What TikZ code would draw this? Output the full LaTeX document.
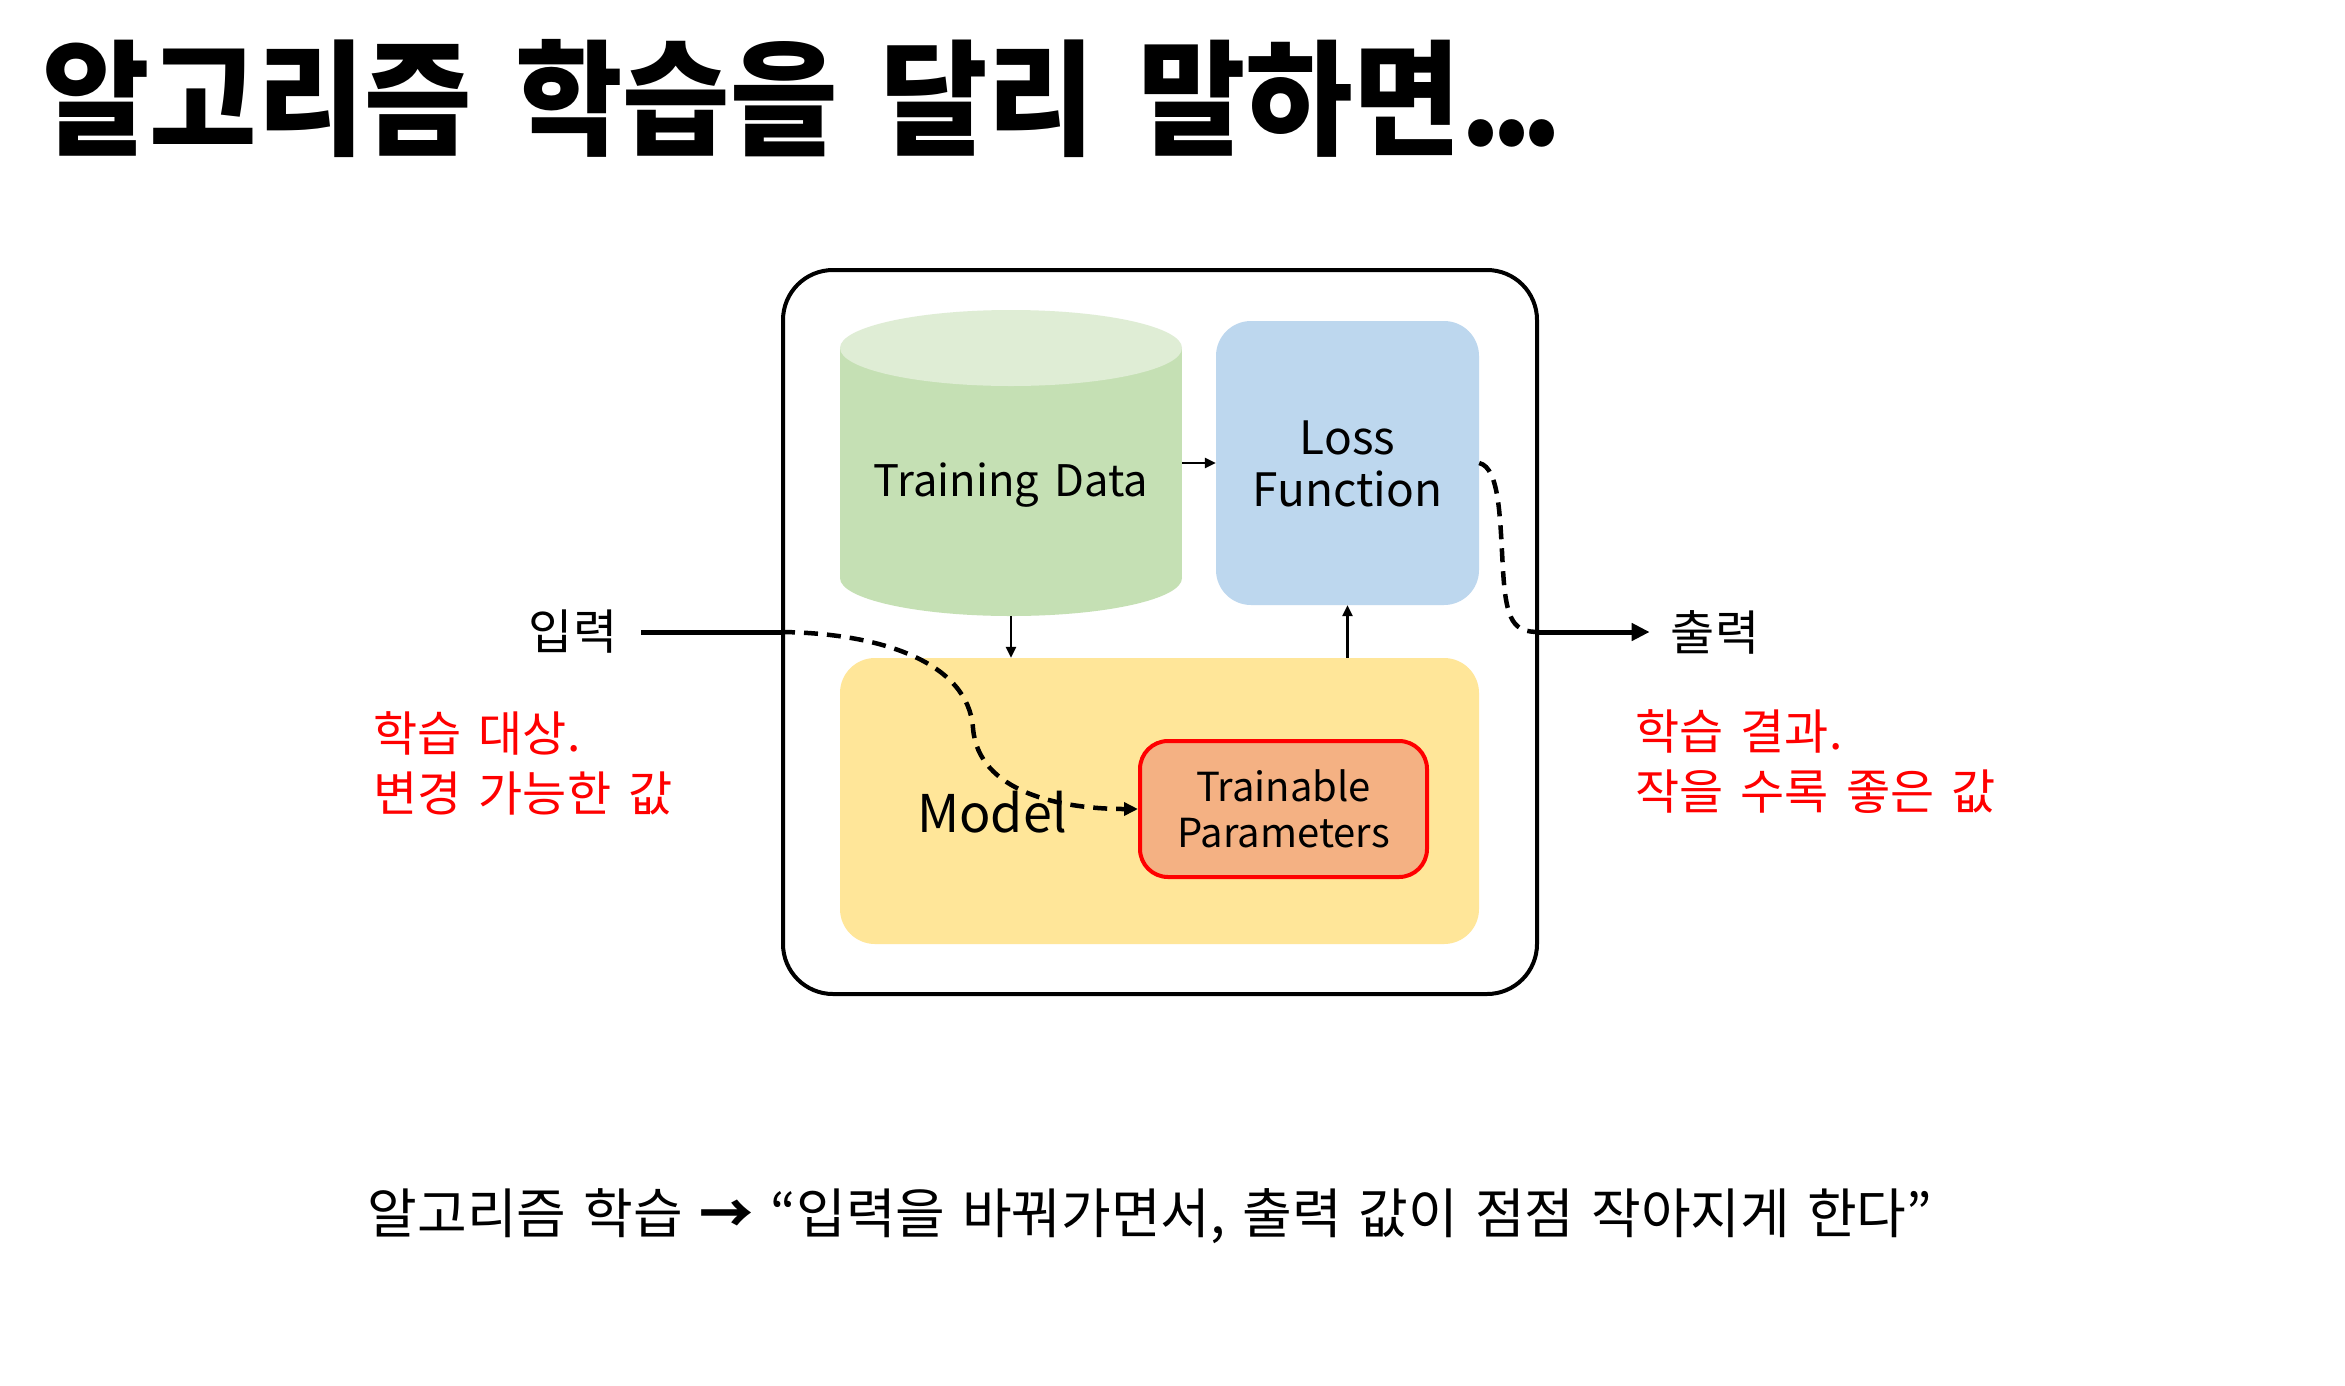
\documentclass[tikz,border=0pt]{standalone}
\usepackage{fontspec}
\setmainfont{Noto Sans CJK KR}[WordSpace=1.6]
\newfontfamily\headingfont{Noto Sans CJK KR}[FakeStretch=0.935, WordSpace=1.6]
\newfontfamily\summaryfont{Noto Sans CJK KR}[WordSpace=1.4]
\usetikzlibrary{arrows.meta}

\definecolor{datagreen}{HTML}{C5E0B4}
\definecolor{datatop}{HTML}{DFEDD5}
\definecolor{lossblue}{HTML}{BDD7EE}
\definecolor{modelyellow}{HTML}{FFE699}
\definecolor{paramorange}{HTML}{F4B183}
\definecolor{alertred}{HTML}{FF0000}

\newcommand{\fsz}[2]{\fontsize{#1}{#2}\selectfont}
\newcommand{\tightdots}{.\kern-11pt.\kern-11pt.}

\begin{document}
\begin{tikzpicture}[x=1pt,y=-1pt,
  panel/.style={draw=black, line width=4pt, rounded corners=50pt,
    minimum width=754pt, minimum height=724pt, inner sep=0pt},
  block/.style={rounded corners=35pt, inner sep=0pt},
  blocktext/.style={font=\fsz{46}{52}, align=center, inner sep=0pt},
  sidelabel/.style={font=\fsz{48}{56}, inner sep=0pt},
  note/.style={font=\fsz{48}{60}, text=alertred, align=left, inner sep=0pt, anchor=west},
  flow/.style={line width=2.5pt, -{Triangle[length=11pt,width=10pt]}},
  wire/.style={line width=5pt},
  dashwire/.style={line width=4.5pt, dash pattern=on 14pt off 9pt}]

% page frame
\useasboundingbox[fill=white] (0,0) rectangle (2345,1385);

% heading
\node[anchor=base west, inner sep=0pt, font=\headingfont\bfseries\fsz{125}{130}] (title)
  at (42,145) {알고리즘 학습을 달리 말하면\tightdots};

% outer frame of the learning loop
\node[panel] (outer) at (1160,632) {};

% training data drum
\fill[datagreen] (840,348) rectangle (1182,578);
\fill[datagreen] (1011,578) ellipse [x radius=171pt, y radius=38pt];
\fill[datatop] (1011,348) ellipse [x radius=171pt, y radius=38pt];
\node[minimum width=342pt, minimum height=306pt, inner sep=0pt] (data) at (1011,463) {};
\node[blocktext, font=\fsz{43.5}{50}] (datalabel) at (1011,485) {Training Data};

% loss function
\node[block, fill=lossblue, minimum width=263pt, minimum height=284pt] (loss)
  at (1347.5,463) {};
\node[blocktext] (losslabel) at (1347.5,464) {Loss\\Function};

% model with its trainable parameters
\node[block, fill=modelyellow, minimum width=639pt, minimum height=286pt] (model)
  at (1159.5,801) {};
\node[font=\fsz{52}{56}, inner sep=0pt] (modellabel) at (992,812) {Model};
\node[draw=alertred, line width=4pt, fill=paramorange, rounded corners=28pt,
  minimum width=287pt, minimum height=136pt, inner sep=0pt,
  font=\fsz{40}{45.5}, align=center] (params) at (1283.5,809) {Trainable\\Parameters};

% internal flow
\draw[flow] (data.east) -- (loss.west);
\draw[flow] (data.south) -- (model.north -| data.south);
\draw[flow] (model.north -| loss.south) -- (loss.south);

% input and output
\node[sidelabel] (inp) at (573,632) {입력};
\node[sidelabel] (outp) at (1715,632) {출력};
\draw[wire] ([xshift=24pt]inp.east) -- (outer.west);
\draw[dashwire, -{Triangle[length=14pt,width=13pt]}] (outer.west)
  .. controls (880,633) and (968,662) .. (973,728)
  .. controls (978,792) and (1060,809) .. (params.west);
\draw[dashwire] (loss.east)
  .. controls (1500,468) and (1500,520) .. (1503,570)
  .. controls (1506,622) and (1514,632) .. (outer.east);
\draw[wire, -{Triangle[length=18pt,width=17pt]}] (outer.east) -- ([xshift=-21pt]outp.west);

% notes
\node[note] (leftnote) at (373,763) {학습 대상.\\변경 가능한 값};
\node[note] (rightnote) at (1635,762) {학습 결과.\\작을 수록 좋은 값};

% summary line
\node[font=\summaryfont\fsz{54}{60}, inner sep=0pt] (summary) at (1150,1216)
  {알고리즘 학습 {\bfseries →} “입력을 바꿔가면서, 출력 값이 점점 작아지게 한다”};
\end{tikzpicture}
\end{document}
